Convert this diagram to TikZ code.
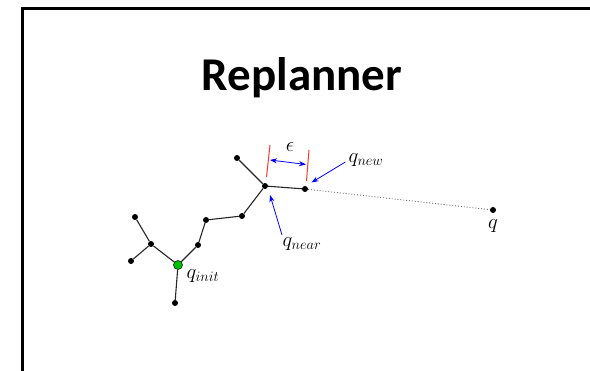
\documentclass[tikz,border=0pt]{standalone}
\usepackage{fontspec}
\newfontfamily\titlefont{Carlito}
\usetikzlibrary{arrows.meta}
\tikzset{
  vtx/.style={circle,fill=black,inner sep=0pt,minimum size=6pt},
  rootvtx/.style={circle,fill=green!75!black,draw=black,line width=0.5pt,inner sep=0pt,minimum size=9pt},
  edge/.style={draw=black!85,line width=1.1pt},
  pointer/.style={draw=blue,line width=0.8pt,-{Stealth[length=7pt,width=5pt]}},
  tick/.style={draw=red!80,line width=1pt},
  lbl/.style={inner sep=1pt,font=\fontsize{21}{24}\selectfont}
}
\begin{document}
\begin{tikzpicture}[x=1pt,y=-1pt]
\useasboundingbox (0,0) rectangle (590,371);
\clip (0,0) rectangle (590,371);
% outer frame
\draw[line width=3pt] (22,9) rectangle (620,400);
% title
\node[font=\titlefont\bfseries\fontsize{47}{50}\selectfont] (title) at (302,78) {Replanner};
% tree vertices
\node[vtx] (bot) at (175,303) {};
\node[vtx] (j1) at (151,244) {};
\node[vtx] (ul) at (135,217) {};
\node[vtx] (l) at (131,261) {};
\node[vtx] (a1) at (198,245) {};
\node[vtx] (a2) at (206,220) {};
\node[vtx] (a3) at (242,216) {};
\node[vtx] (near) at (265,186) {};
\node[vtx] (top) at (237,158) {};
\node[vtx] (new) at (305,189) {};
\node[vtx] (q) at (493,210) {};
\node[rootvtx] (init) at (178,265) {};
% tree edges
\draw[edge] (init) -- (bot);
\draw[edge] (init) -- (j1);
\draw[edge] (j1) -- (ul);
\draw[edge] (j1) -- (l);
\draw[edge] (init) -- (a1);
\draw[edge] (a1) -- (a2);
\draw[edge] (a2) -- (a3);
\draw[edge] (a3) -- (near);
\draw[edge] (near) -- (top);
\draw[edge] (near) -- (new);
\draw[black!60,line width=0.9pt,dotted] (new) -- (q);
% step size markers
\coordinate (t1a) at (270,145);
\coordinate (t1b) at (266.5,177);
\coordinate (t2a) at (309,150);
\coordinate (t2b) at (306.5,181);
\draw[tick] (t1a) -- (t1b);
\draw[tick] (t2a) -- (t2b);
\coordinate (ea) at (270,160);
\coordinate (eb) at (306,164.5);
\draw[pointer,{Stealth[length=7pt,width=5pt]}-{Stealth[length=7pt,width=5pt]}] (ea) -- (eb);
\node[lbl] (eps) at (290,147) {$\epsilon$};
% labels
\node[lbl] (lnew) at (366,160) {$q_{new}$};
\node[lbl] (lnear) at (302,244) {$q_{near}$};
\node[lbl] (linit) at (203,276) {$q_{init}$};
\node[lbl] (lq) at (493,226) {$q$};
% pointers to labelled vertices
\draw[pointer] (lnew.west) ++(-2,2) coordinate (pn) (pn) -- (311.5,182.5) coordinate (pnend);
\draw[pointer] (282,235) coordinate (pr) -- (270,195) coordinate (prend);
\end{tikzpicture}
\end{document}
